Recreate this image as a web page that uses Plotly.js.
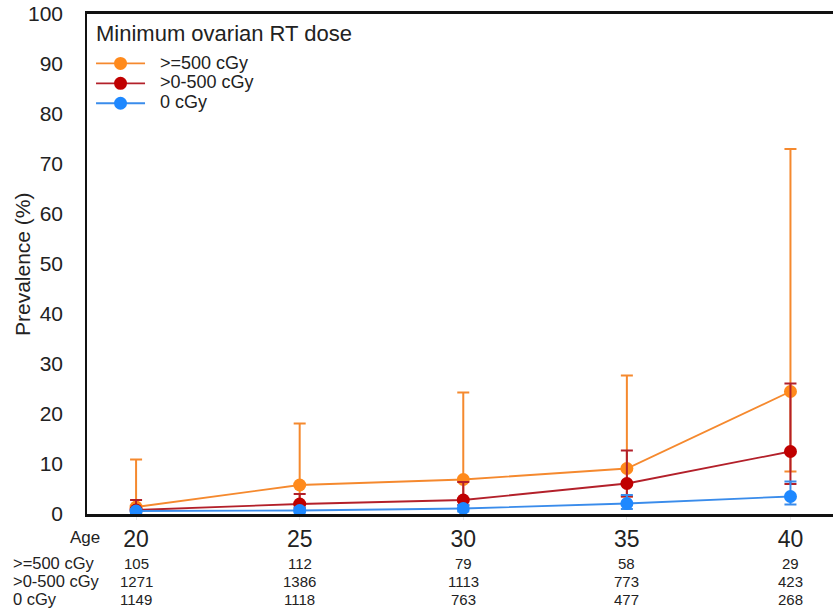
<!DOCTYPE html>
<html>
<head>
<meta charset="utf-8">
<script src="https://cdn.plot.ly/plotly-3.0.1.min.js"></script>
<style>html,body{margin:0;padding:0;background:#fff;}#chart{width:833px;height:611px;}</style>
</head>
<body>
<div id="chart"></div>
<script>
// Data
const ages = [20, 25, 30, 35, 40];
const seriesNames = ['>=500 cGy', '>0-500 cGy', '0 cGy'];
const legendTitle = 'Minimum ovarian RT dose';
const yTitle = 'Prevalence (%)';

const prevHigh = [1.4, 5.8, 6.9, 9.1, 24.5];
const upperHigh = [10.9, 18.1, 24.3, 27.7, 73.0];
const lowerHigh = [0.1, 2.0, 2.5, 3.5, 8.5];

const prevMid = [0.8, 2.0, 2.8, 6.1, 12.5];
const upperMid = [2.8, 4.0, 6.4, 12.7, 26.1];
const lowerMid = [0.3, 1.2, 1.8, 3.5, 6.0];

const prevZero = [0.6, 0.7, 1.1, 2.1, 3.5];
const upperZero = [1.0, 1.3, 1.8, 3.8, 6.5];
const lowerZero = [0.1, 0.3, 0.5, 1.0, 1.9];

const nHigh = [105, 112, 79, 58, 29];
const nMid = [1271, 1386, 1113, 773, 423];
const nZero = [1149, 1118, 763, 477, 268];

const yTicks = [0, 10, 20, 30, 40, 50, 60, 70, 80, 90, 100];

const markerColors = ['#FF8A1C', '#C00000', '#1E88FF'];
const lineColors = ['#F5892E', '#B3202A', '#3A8CEB'];

function mk(i, prev, up, lo) {
  return {
    type: 'scatter', mode: 'lines+markers',
    name: '<span style="font-size:18px">&nbsp;&nbsp;' + seriesNames[i].replace(/>/g, '&gt;') + '</span>',
    x: ages, y: prev,
    line: {color: lineColors[i], width: 1.8},
    marker: {color: markerColors[i], size: 13},
    error_y: {
      type: 'data', symmetric: false,
      array: up.map((u, k) => u - prev[k]),
      arrayminus: lo.map((l, k) => prev[k] - l),
      color: lineColors[i], thickness: 2, width: 6
    }
  };
}

const traces = [
  mk(0, prevHigh, upperHigh, lowerHigh),
  mk(1, prevMid, upperMid, lowerMid),
  mk(2, prevZero, upperZero, lowerZero)
];

const font = 'Liberation Sans, Arial, Helvetica, sans-serif';
const annotations = [];
annotations.push({xref: 'paper', yref: 'paper', x: 0.0094, y: 0.962, xanchor: 'left', yanchor: 'middle',
  text: legendTitle, showarrow: false, font: {family: font, size: 22, color: '#222'}});
annotations.push({xref: 'paper', yref: 'paper', x: -0.0871, y: 0.5, xanchor: 'center', yanchor: 'middle',
  textangle: -90, text: yTitle, showarrow: false, font: {family: font, size: 21, color: '#222'}});
annotations.push({xref: 'paper', yref: 'paper', x: 0, y: 0, xanchor: 'right', yanchor: 'middle',
  xshift: 15, yshift: -23, text: 'Age', showarrow: false, font: {family: font, size: 17, color: '#222'}});
const rows = [[seriesNames[0], nHigh, -49], [seriesNames[1], nMid, -67], [seriesNames[2], nZero, -85]];
rows.forEach(r => {
  annotations.push({xref: 'paper', yref: 'paper', x: -0.102, y: 0, xanchor: 'left', yanchor: 'middle',
    yshift: r[2], text: r[0].replace(/>/g, '&gt;'), showarrow: false, font: {family: font, size: 16.5, color: '#222'}});
  r[1].forEach((v, k) => {
    annotations.push({xref: 'x', yref: 'paper', x: ages[k], y: 0, xanchor: 'center', yanchor: 'middle',
      yshift: r[2], text: String(v), showarrow: false, font: {family: font, size: 15, color: '#222'}});
  });
});

const layout = {
  width: 833, height: 611,
  margin: {l: 87, r: 0, t: 14, b: 97},
  paper_bgcolor: '#fff', plot_bgcolor: '#fff',
  font: {family: font, color: '#222'},
  showlegend: true,
  legend: {
    x: 0.0054, y: 0.931, xanchor: 'left', yanchor: 'top',
    bgcolor: 'rgba(0,0,0,0)',
    font: {size: 13, color: '#222'},
    itemwidth: 49,
    tracegroupgap: 0
  },
  xaxis: {
    range: [18.5, 41.3], tickvals: ages, ticktext: ages.map(String),
    showgrid: false, zeroline: false,
    showline: true, linecolor: '#111', linewidth: 2.5, mirror: true,
    ticks: 'outside', ticklen: 3, tickcolor: '#e6e6e6', tickwidth: 1,
    tickfont: {family: font, size: 23, color: '#222'}
  },
  yaxis: {
    range: [0, 100], tickvals: yTicks,
    showgrid: false, zeroline: false,
    showline: true, linecolor: '#111', linewidth: 1.5,
    ticks: '', ticklabelstandoff: 18,
    tickfont: {size: 21, color: '#222'}
  },
  annotations: annotations
};

Plotly.newPlot('chart', traces, layout, {displayModeBar: false, responsive: false});
</script>
</body>
</html>
